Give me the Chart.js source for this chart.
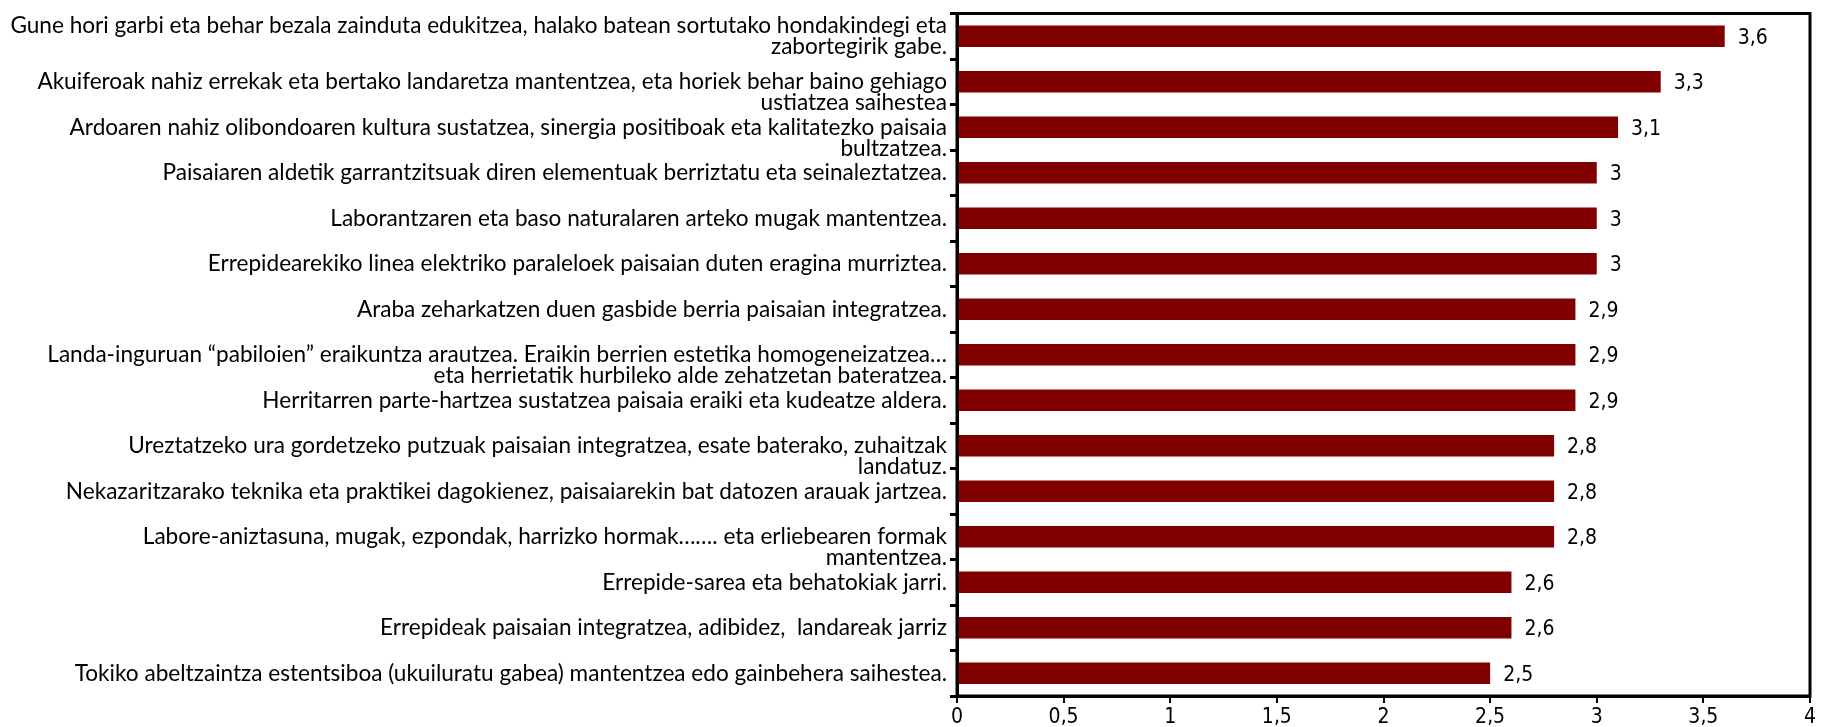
<!DOCTYPE html>
<html>
<head>
<meta charset="utf-8">
<script src="https://cdn.jsdelivr.net/npm/chart.js@4/dist/chart.umd.min.js"></script>
<style>
    html, body { margin: 0; padding: 0; background: #fff; }
    #wrap { width: 1829px; height: 727px; position: relative; }
</style>
</head>
<body>
<div id="wrap"><canvas id="paisaiaChart"></canvas></div>
<script>
// Categories, top to bottom. A leading '' keeps the first line level with the bar,
// the way the original wraps long labels.
const categories = [
    ['Gune hori garbi eta behar bezala zainduta edukitzea, halako batean sortutako hondakindegi eta', 'zabortegirik gabe.'],
    ['', 'Akuiferoak nahiz errekak eta bertako landaretza mantentzea, eta horiek behar baino gehiago', 'ustiatzea saihestea'],
    ['', 'Ardoaren nahiz olibondoaren kultura sustatzea, sinergia positiboak eta kalitatezko paisaia', 'bultzatzea.'],
    'Paisaiaren aldetik garrantzitsuak diren elementuak berriztatu eta seinaleztatzea.',
    'Laborantzaren eta baso naturalaren arteko mugak mantentzea.',
    'Errepidearekiko linea elektriko paraleloek paisaian duten eragina murriztea.',
    'Araba zeharkatzen duen gasbide berria paisaian integratzea.',
    ['', 'Landa-inguruan \u201cpabiloien\u201d eraikuntza arautzea. Eraikin berrien estetika homogeneizatzea\u2026', 'eta herrietatik hurbileko alde zehatzetan bateratzea.'],
    'Herritarren parte-hartzea sustatzea paisaia eraiki eta kudeatze aldera.',
    ['', 'Ureztatzeko ura gordetzeko putzuak paisaian integratzea, esate baterako, zuhaitzak', 'landatuz.'],
    'Nekazaritzarako teknika eta praktikei dagokienez, paisaiarekin bat datozen arauak jartzea.',
    ['', 'Labore-aniztasuna, mugak, ezpondak, harrizko hormak\u2026\u2026. eta erliebearen formak', 'mantentzea.'],
    'Errepide-sarea eta behatokiak jarri.',
    'Errepideak paisaian integratzea, adibidez,  landareak jarriz',
    'Tokiko abeltzaintza estentsiboa (ukuiluratu gabea) mantentzea edo gainbehera saihestea.'
];

const scores = [3.6, 3.3, 3.1, 3, 3, 3, 2.9, 2.9, 2.9, 2.8, 2.8, 2.8, 2.6, 2.6, 2.5];

// x axis range and step
const xMin = 0;
const xMax = 4;
const xStep = 0.5;

// decimal comma, like the original
function fmt(v) {
    return String(v).replace('.', ',');
}

const labelFont = { family: 'Lato, "Liberation Sans Narrow", sans-serif', size: 22.6, lineHeight: '21px' };
const numberFont = { family: '"DejaVu Sans Condensed", "DejaVu Sans", sans-serif', size: 21 };

// Values at the end of each bar
const valueLabels = {
    id: 'valueLabels',
    afterDatasetsDraw(chart) {
        const ctx = chart.ctx;
        const meta = chart.getDatasetMeta(0);
        ctx.save();
        ctx.font = numberFont.size + 'px ' + numberFont.family;
        ctx.fillStyle = '#000';
        ctx.textAlign = 'left';
        ctx.textBaseline = 'middle';
        meta.data.forEach((bar, i) => {
            ctx.fillText(fmt(scores[i]), bar.x + 13, bar.y + 2);
        });
        ctx.restore();
    }
};

// Box round the plot area
const plotBox = {
    id: 'plotBox',
    afterDraw(chart) {
        const { ctx, chartArea: a } = chart;
        ctx.save();
        ctx.strokeStyle = '#000';
        ctx.lineWidth = 3;
        ctx.strokeRect(a.left, a.top, a.right - a.left, a.bottom - a.top);
        ctx.restore();
    }
};

const ctx = document.getElementById('paisaiaChart');

new Chart(ctx, {
    type: 'bar',
    data: {
        labels: categories,
        datasets: [{
            data: scores,
            backgroundColor: '#800000',
            borderWidth: 0,
            barPercentage: 0.47,
            categoryPercentage: 1
        }]
    },
    options: {
        indexAxis: 'y',
        responsive: true,
        maintainAspectRatio: false,
        animation: false,
        layout: {
            padding: { top: 12, right: 19, bottom: 0, left: 0 }
        },
        plugins: {
            legend: { display: false },
            tooltip: { enabled: false }
        },
        scales: {
            x: {
                min: xMin,
                max: xMax,
                grid: {
                    drawOnChartArea: false,
                    drawTicks: true,
                    tickLength: 7,
                    color: '#000',
                    lineWidth: 2
                },
                border: { color: '#000', width: 3 },
                ticks: {
                    stepSize: xStep,
                    color: '#000',
                    font: numberFont,
                    padding: 2,
                    maxRotation: 0,
                    callback: function(value) {
                        return fmt(value);
                    }
                },
                afterFit: function(scale) {
                    scale.height = 31;
                }
            },
            y: {
                grid: {
                    offset: true,
                    drawOnChartArea: false,
                    drawTicks: true,
                    tickLength: 7,
                    color: '#000',
                    lineWidth: 3
                },
                border: { color: '#000', width: 3 },
                ticks: {
                    color: '#000',
                    font: labelFont,
                    padding: 3,
                    autoSkip: false
                },
                afterFit: function(scale) {
                    scale.width = 957;
                }
            }
        }
    },
    plugins: [valueLabels, plotBox]
});
</script>
</body>
</html>
